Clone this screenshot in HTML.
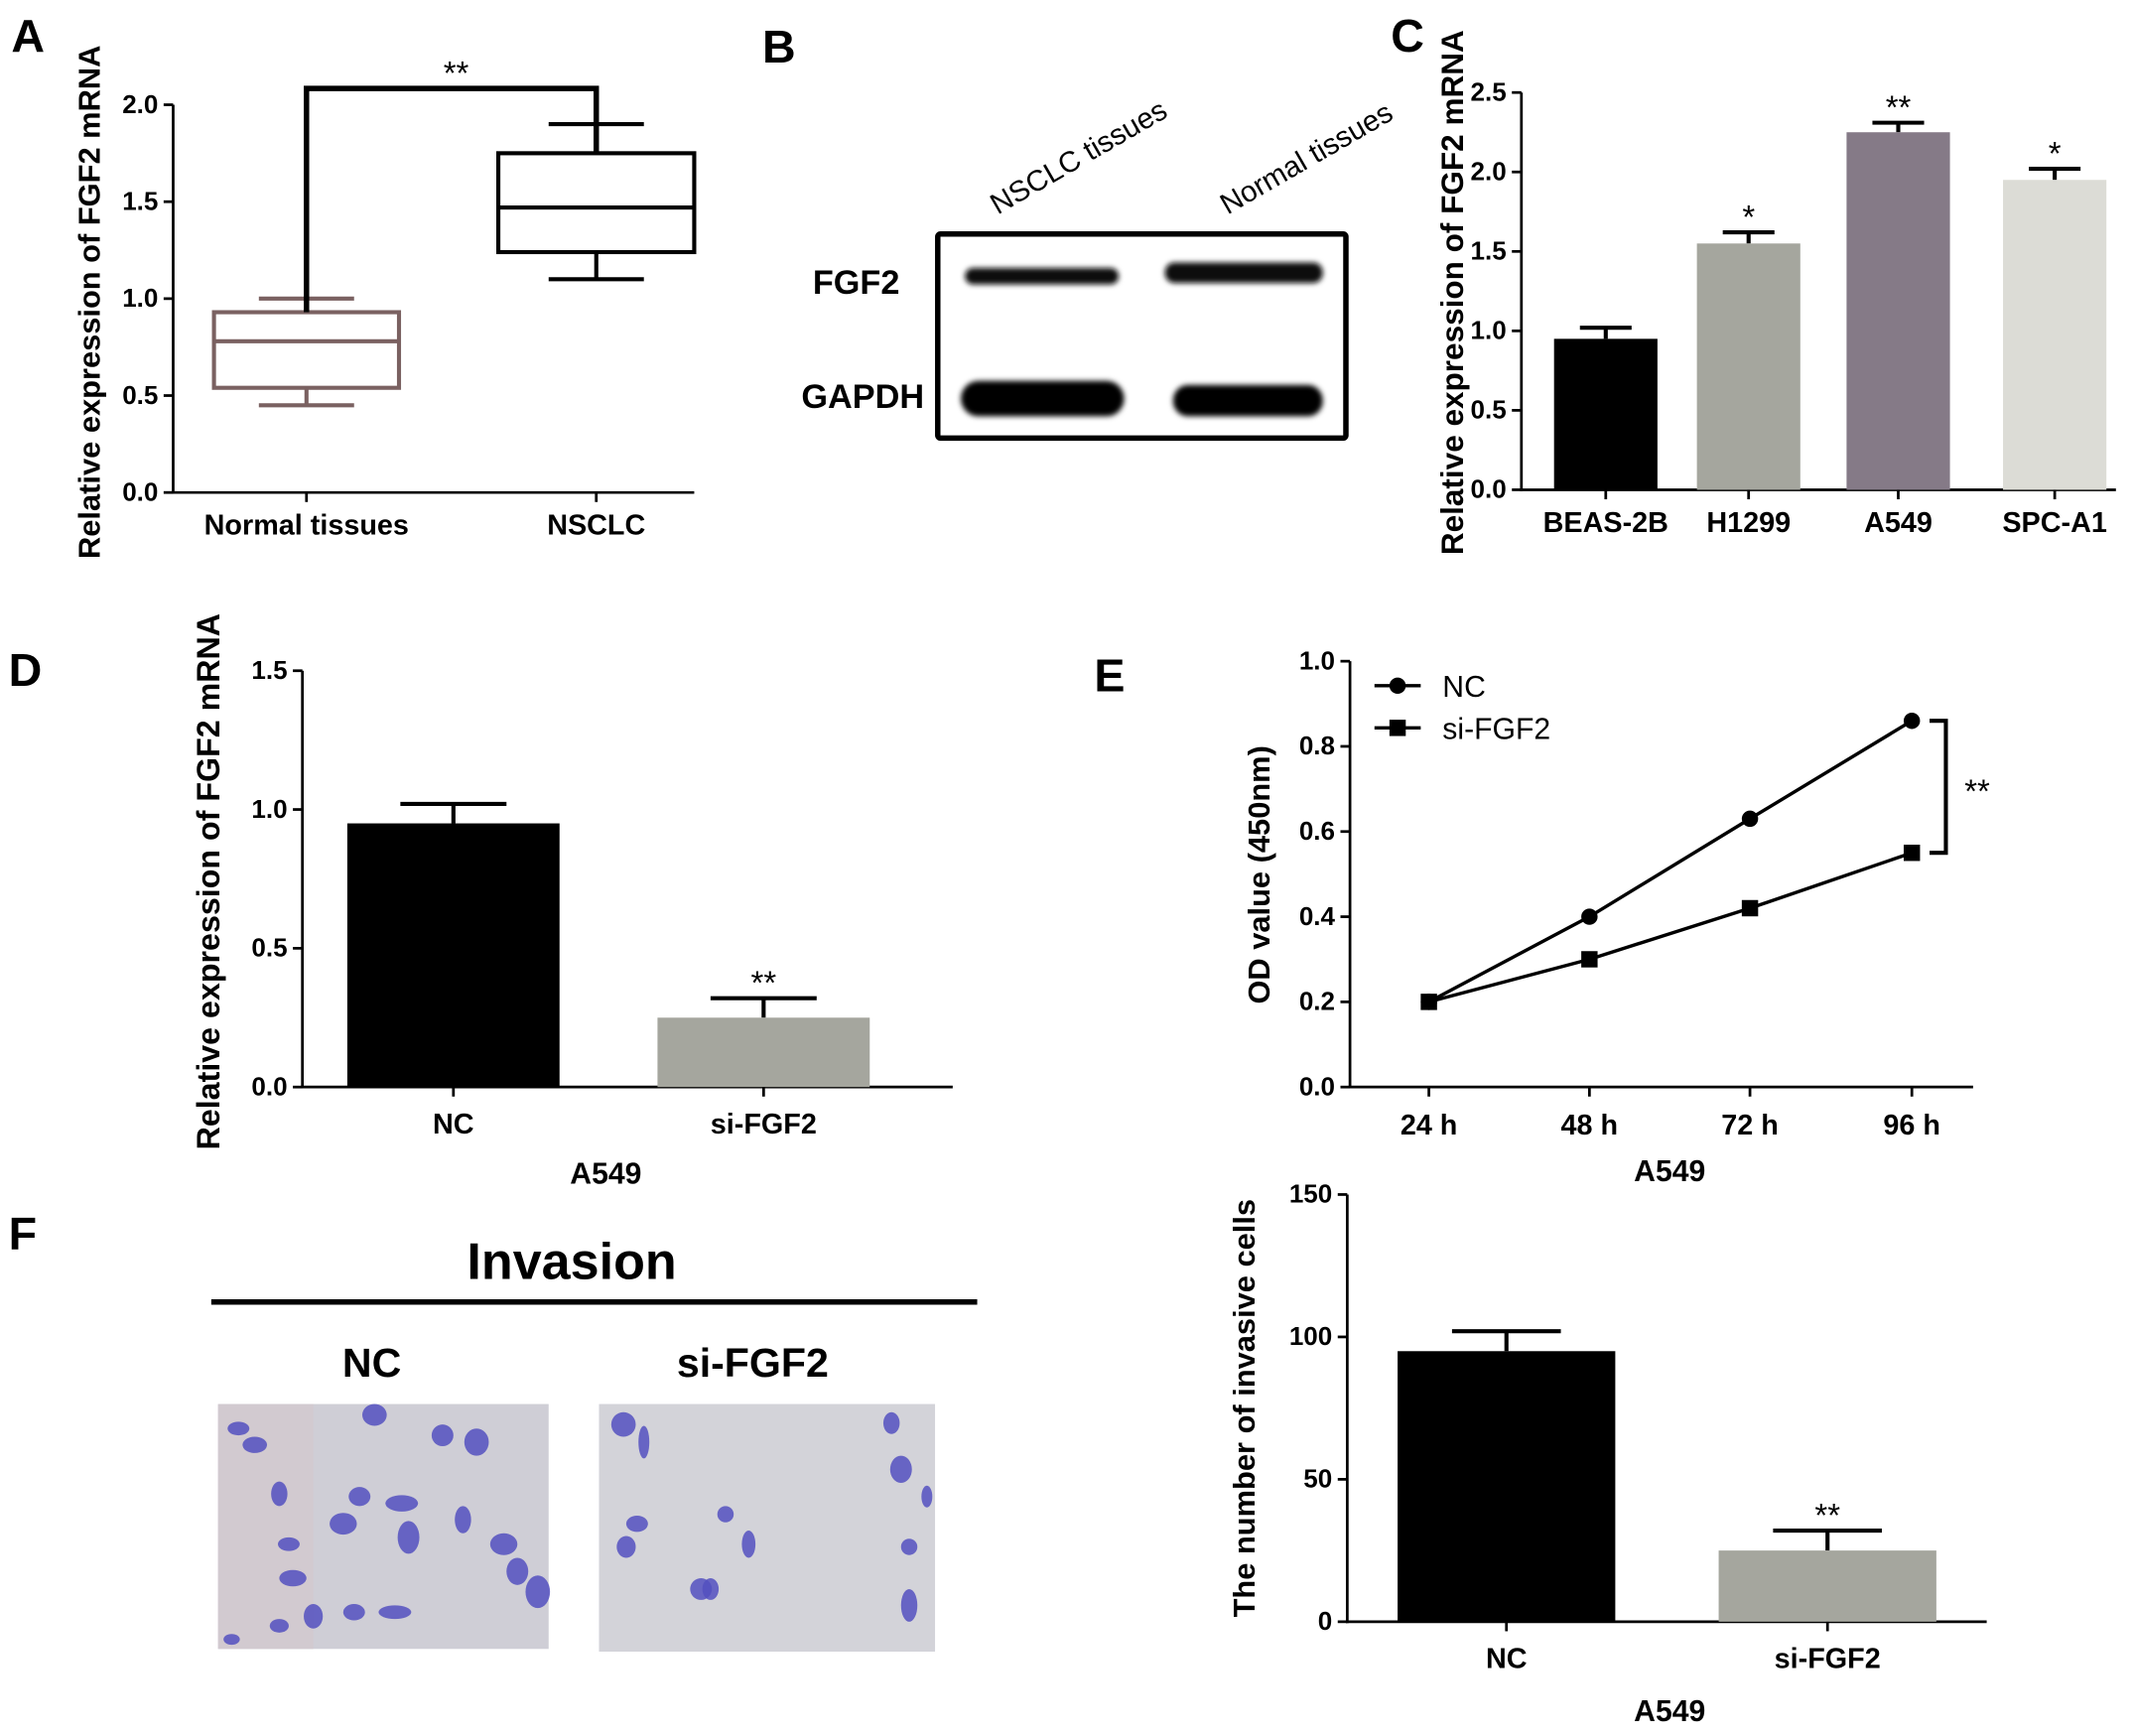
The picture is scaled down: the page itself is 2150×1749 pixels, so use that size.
<!DOCTYPE html>
<html><head><meta charset="utf-8"><style>
html,body{margin:0;padding:0;background:#fff;}
svg{display:block;font-family:"Liberation Sans",Arial,sans-serif;}
</style></head><body>
<svg id="fig" width="2150" height="1749" viewBox="0 0 1568 1276" xmlns="http://www.w3.org/2000/svg">
<g font-weight="bold" font-size="34">
<text x="8" y="38">A</text>
<text x="560" y="46">B</text>
<text x="1022" y="38">C</text>
<text x="6" y="504">D</text>
<text x="804" y="508">E</text>
<text x="6" y="918">F</text>
</g>
<g id="gA"></g>
<g id="gB">
<text x="0" y="0" transform="translate(733,158) rotate(-30)" font-size="21.5">NSCLC tissues</text>
<text x="0" y="0" transform="translate(902,158) rotate(-30)" font-size="21.5">Normal tissues</text>
<text x="661" y="216" text-anchor="end" font-size="25" font-weight="bold">FGF2</text>
<text x="679" y="300" text-anchor="end" font-size="25" font-weight="bold">GAPDH</text>
<rect x="689" y="172" width="300" height="150" fill="#fff" stroke="#000" stroke-width="4" rx="2"/>
<defs><filter id="bl"><feGaussianBlur stdDeviation="2"/></filter></defs>
<g filter="url(#bl)">
<rect x="709" y="197" width="113" height="12" rx="6" fill="#111"/>
<rect x="856" y="193" width="116" height="15" rx="7" fill="#080808"/>
<rect x="706" y="280" width="120" height="26" rx="13" fill="#000"/>
<rect x="862" y="283" width="110" height="23" rx="11" fill="#050505"/>
</g>
</g>
<g id="gC"></g>
<g id="gD"></g>
<g id="gE"></g>
<g id="gF"></g>
<g>
<text x="420" y="940" text-anchor="middle" font-size="38" font-weight="bold">Invasion</text>
<line x1="155" y1="957" x2="718" y2="957" stroke="#000" stroke-width="4"/>
<text x="273" y="1012" text-anchor="middle" font-size="30" font-weight="bold">NC</text>
<text x="553" y="1012" text-anchor="middle" font-size="30" font-weight="bold">si-FGF2</text>
<rect x="160" y="1032" width="243" height="180" fill="#cfced6"/>
<rect x="160" y="1032" width="70" height="180" fill="#d2cad0"/>
<rect x="440" y="1032" width="247" height="182" fill="#d3d3d9"/>
<g id="cells" fill="#5a55c0"></g>
</g>
<script>
var NS="http://www.w3.org/2000/svg";
function mk(p,t,a,txt){var e=document.createElementNS(NS,t);for(var k in a)e.setAttribute(k,a[k]);if(txt!==undefined)e.textContent=txt;p.appendChild(e);return e;}
// ---- data ----
var aCats=["Normal tissues","NSCLC"];
var aMin=[0.45,1.10],aQ1=[0.54,1.24],aMed=[0.78,1.47],aQ3=[0.93,1.75],aMax=[1.00,1.90];
var aTicks=[0,0.5,1.0,1.5,2.0];
var cCats=["BEAS-2B","H1299","A549","SPC-A1"];
var cVals=[0.95,1.55,2.25,1.95],cErr=[0.07,0.07,0.06,0.07],cSig=["","*","**","*"];
var cTicks=[0,0.5,1.0,1.5,2.0,2.5];
var dCats=["NC","si-FGF2"],dVals=[0.95,0.25],dErr=[0.07,0.07],dSig=["","**"];
var dTicks=[0,0.5,1.0,1.5];
var eCats=["24 h","48 h","72 h","96 h"];
var eNC=[0.2,0.4,0.63,0.86],eSi=[0.2,0.3,0.42,0.55];
var eTicks=[0,0.2,0.4,0.6,0.8,1.0];
var fCats=["NC","si-FGF2"],fVals=[95,25],fErr=[7,7],fSig=["","**"];
var fTicks=[0,50,100,150];

function yAxis(g,x,y0,y1,vmax,ticks,fmt,name){
  var sc=function(v){return y0-(y0-y1)*v/vmax;};
  var l=mk(g,"line",{x1:x,y1:y0+1,x2:x,y2:y1,stroke:"#000","stroke-width":2});
  
  
  ticks.forEach(function(t){
    mk(g,"line",{x1:x-7,x2:x,y1:sc(t),y2:sc(t),stroke:"#000","stroke-width":2});
    var tx=mk(g,"text",{x:x-11,y:sc(t)+6,"text-anchor":"end","font-size":19,"font-weight":"bold"},fmt(t));
    
    
  });
  return sc;
}
function yTitle(g,x,y,txt,size){
  var t=mk(g,"text",{transform:"translate("+x+","+y+") rotate(-90)","text-anchor":"middle","font-size":size||21,"font-weight":"bold"},txt);
  
  
}
function xLabel(g,x,y,txt,size,name){
  var t=mk(g,"text",{x:x,y:y,"text-anchor":"middle","font-size":size||20,"font-weight":"bold"},txt);
  
  
}
function f1(v){return v.toFixed(1);}
function f0(v){return String(v);}

// ---- Panel A ----
(function(){
  var g=document.getElementById("gA");
  var sc=yAxis(g,127,362,77,2.0,aTicks,f1,"a");
  mk(g,"line",{x1:126,x2:510,y1:362,y2:362,stroke:"#000","stroke-width":2});
  yTitle(g,73,222,"Relative expression of FGF2 mRNA",22.5);
  var cx=[225,438],w=[136,144],col=["#7a6161","#000"];
  aCats.forEach(function(c,i){
    var b=mk(g,"g",{stroke:col[i],"stroke-width":3,fill:"none"});
    
    
    mk(b,"rect",{x:cx[i]-w[i]/2,y:sc(aQ3[i]),width:w[i],height:sc(aQ1[i])-sc(aQ3[i])});
    mk(b,"line",{x1:cx[i]-w[i]/2,x2:cx[i]+w[i]/2,y1:sc(aMed[i]),y2:sc(aMed[i])});
    mk(b,"line",{x1:cx[i],x2:cx[i],y1:sc(aQ3[i]),y2:sc(aMax[i])});
    mk(b,"line",{x1:cx[i],x2:cx[i],y1:sc(aQ1[i]),y2:sc(aMin[i])});
    mk(b,"line",{x1:cx[i]-35,x2:cx[i]+35,y1:sc(aMax[i]),y2:sc(aMax[i])});
    mk(b,"line",{x1:cx[i]-35,x2:cx[i]+35,y1:sc(aMin[i]),y2:sc(aMin[i])});
    mk(g,"line",{x1:cx[i],x2:cx[i],y1:362,y2:369,stroke:"#000","stroke-width":2});
    xLabel(g,cx[i],393,c,21);
  });
  var br=mk(g,"path",{d:"M225 "+sc(aQ3[0])+" V65 H438 V"+sc(aQ3[1]),stroke:"#000","stroke-width":4,fill:"none"});
  
  
  mk(g,"text",{x:335,y:62,"text-anchor":"middle","font-size":24},"**");
})();

function bars(g,x0,xEnd,y0,y1,vmax,ticks,fmt,cats,vals,err,sig,cx,bw,cols,labY,name){
  var sc=yAxis(g,x0,y0,y1,vmax,ticks,fmt,name);
  mk(g,"line",{x1:x0-1,x2:xEnd,y1:y0,y2:y0,stroke:"#000","stroke-width":2});
  cats.forEach(function(c,i){
    var top=sc(vals[i]+err[i]);
    mk(g,"line",{x1:cx[i],x2:cx[i],y1:sc(vals[i]),y2:top,stroke:"#000","stroke-width":3});
    mk(g,"line",{x1:cx[i]-bw*0.25,x2:cx[i]+bw*0.25,y1:top,y2:top,stroke:"#000","stroke-width":3});
    var r=mk(g,"rect",{x:cx[i]-bw/2,y:sc(vals[i]),width:bw,height:y0-sc(vals[i]),fill:cols[i]});
    
    
    mk(g,"line",{x1:cx[i],x2:cx[i],y1:y0,y2:y0+7,stroke:"#000","stroke-width":2});
    if(sig[i])mk(g,"text",{x:cx[i],y:top-3,"text-anchor":"middle","font-size":24},sig[i]);
    xLabel(g,cx[i],labY,c,21);
  });
}
bars(document.getElementById("gC"),1118,1555,360,68,2.5,cTicks,f1,cCats,cVals,cErr,cSig,[1180,1285,1395,1510],76,["#000","#a5a69e","#857a87","#dcdcd6"],391,"c");
yTitle(document.getElementById("gC"),1075,215,"Relative expression of FGF2 mRNA",23);
bars(document.getElementById("gD"),222,700,799,493,1.5,dTicks,f1,dCats,dVals,dErr,dSig,[333,561],156,["#000","#a5a69e"],833,"d");
yTitle(document.getElementById("gD"),161,648,"Relative expression of FGF2 mRNA",23.5);
xLabel(document.getElementById("gD"),445,870,"A549",22,"x-axis-title");
bars(document.getElementById("gF"),990,1460,1192,878,150,fTicks,f0,fCats,fVals,fErr,fSig,[1107,1343],160,["#000","#a5a69e"],1226,"f");
yTitle(document.getElementById("gF"),922,1035,"The number of invasive cells",22.5);
xLabel(document.getElementById("gF"),1227,1265,"A549",22,"x-axis-title");

// ---- Panel E ----
(function(){
  var g=document.getElementById("gE");
  var sc=yAxis(g,992,799,486,1.0,eTicks,f1,"e");
  mk(g,"line",{x1:991,x2:1450,y1:799,y2:799,stroke:"#000","stroke-width":2});
  yTitle(g,933,643,"OD value (450nm)",22.5);
  var xs=[1050,1168,1286,1405];
  eCats.forEach(function(c,i){mk(g,"line",{x1:xs[i],x2:xs[i],y1:799,y2:806,stroke:"#000","stroke-width":2});xLabel(g,xs[i],834,c,21);});
  xLabel(g,1227,868,"A549",22,"x-axis-title");
  function pts(arr){return arr.map(function(v,i){return xs[i]+","+sc(v);}).join(" ");}
  var l1=mk(g,"polyline",{points:pts(eNC),fill:"none",stroke:"#000","stroke-width":2.5});
  
  
  var l2=mk(g,"polyline",{points:pts(eSi),fill:"none",stroke:"#000","stroke-width":2.5});
  
  
  eNC.forEach(function(v,i){var c=mk(g,"circle",{cx:xs[i],cy:sc(v),r:6,fill:"#000"});});
  eSi.forEach(function(v,i){var r=mk(g,"rect",{x:xs[i]-6,y:sc(v)-6,width:12,height:12,fill:"#000"});});
  var br=mk(g,"path",{d:"M1418 "+sc(eNC[3])+" H1430 V"+sc(eSi[3])+" H1418",fill:"none",stroke:"#000","stroke-width":3});
  
  
  mk(g,"text",{x:1453,y:590,"text-anchor":"middle","font-size":24},"**");
  var lg=mk(g,"g",{});
  
  
  mk(lg,"line",{x1:1010,x2:1044,y1:504,y2:504,stroke:"#000","stroke-width":2.5});
  mk(lg,"circle",{cx:1027,cy:504,r:6,fill:"#000"});
  mk(lg,"text",{x:1060,y:512,"font-size":22},"NC");
  mk(lg,"line",{x1:1010,x2:1044,y1:535,y2:535,stroke:"#000","stroke-width":2.5});
  mk(lg,"rect",{x:1021,y:529,width:12,height:12,fill:"#000"});
  mk(lg,"text",{x:1060,y:543,"font-size":22},"si-FGF2");
})();

// decorative cells in micrographs
(function(){
  var g=document.getElementById("cells");
  var c1=[[175,1050,8,5],[187,1062,9,6],[205,1098,6,9],[212,1135,8,5],[230,1188,7,9],[252,1120,10,8],[264,1100,8,7],[275,1040,9,8],[295,1105,12,6],[300,1130,8,12],[325,1055,8,8],[350,1060,9,10],[340,1117,6,10],[370,1135,10,8],[380,1155,8,10],[395,1170,9,12],[215,1160,10,6],[260,1185,8,6],[290,1185,12,5],[205,1195,7,5],[170,1205,6,4]];
  var c2=[[458,1047,9,9],[473,1060,4,12],[468,1120,8,6],[460,1137,7,8],[515,1168,8,8],[522,1168,6,8],[550,1135,5,10],[533,1113,6,6],[655,1046,6,8],[662,1080,8,10],[668,1137,6,6],[668,1180,6,12],[681,1100,4,8]];
  c1.concat(c2).forEach(function(c){mk(g,"ellipse",{cx:c[0],cy:c[1],rx:c[2],ry:c[3],fill:"#5450c0","fill-opacity":0.85});});
})();
</script>
</svg>
</body></html>
